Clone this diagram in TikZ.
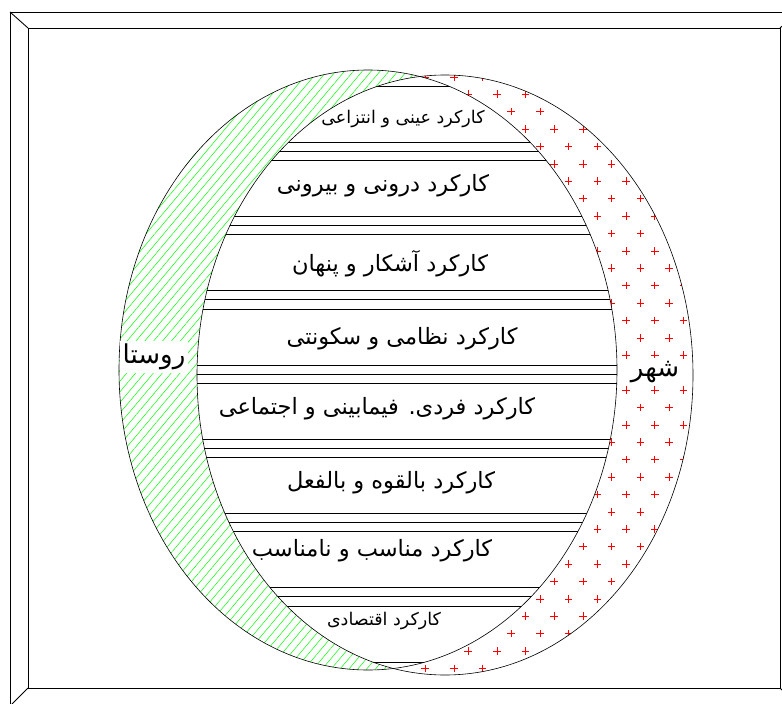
\documentclass[tikz,border=0pt]{standalone}
\usepackage{fontspec}
\newfontfamily\arabicfont[Script=Arabic]{DejaVu Sans}
\TeXXeTstate=1
\usetikzlibrary{patterns.meta}
\tikzset{
  frameline/.style={black, line width=0.9pt},
  ringline/.style={black, line width=0.6pt},
  bandline/.style={black, line width=0.6pt},
  crossmark/.style={red, line width=0.6pt},
  bigtext/.style={font=\arabicfont\fontsize{22.5}{26}\selectfont, inner sep=1pt},
  smalltext/.style={font=\arabicfont\fontsize{17.5}{21}\selectfont, inner sep=1pt},
  sidelabel/.style={font=\arabicfont\fontsize{26}{30}\selectfont, fill=white, inner sep=3pt}
}
\begin{document}
\begin{tikzpicture}[x=1pt,y=-1pt]
\useasboundingbox (0,0) rectangle (782,704);
% bevel frame
\draw[frameline] (10,12) rectangle (798,706);
\draw[frameline] (28,28) rectangle (780,688);
\draw[frameline] (10,12) -- (28,28);
\draw[frameline] (28,688) -- (10,706);
\draw[frameline] (780,28) -- (798,12);
\draw[frameline] (780,688) -- (798,706);
% left ellipse hatch
\fill[pattern={Lines[angle=50, distance=6.8pt, line width=0.5pt]}, pattern color=green]
  (368,370) ellipse [x radius=249, y radius=300];
% crosses inside right ellipse
\begin{scope}
  \clip (445,375) ellipse [x radius=248, y radius=300];
  \foreach \i in {-1,...,9}{
    \foreach \j in {0,...,17}{
      \draw[crossmark] ({453.8+28.7*\i},{76.8+34.8*\j}) ++(-3.8,0) -- ++(7.6,0) ++(-3.8,-3.8) -- ++(0,7.6);
      \draw[crossmark] ({468.15+28.7*\i},{94.2+34.8*\j}) ++(-3.8,0) -- ++(7.6,0) ++(-3.8,-3.8) -- ++(0,7.6);
    }
  }
\end{scope}
% intersection: white with bands
\begin{scope}
  \clip (368,370) ellipse [x radius=249, y radius=300];
  \clip (445,375) ellipse [x radius=248, y radius=300];
  \fill[white] (0,0) rectangle (782,704);
  \foreach \k in {0,...,7}{
    \pgfmathsetmacro\bandtop{86+74.29*\k}
    \draw[bandline] (100,\bandtop) -- (700,\bandtop);
    \draw[bandline] (100,{\bandtop+56}) -- (700,{\bandtop+56});
  }
  \foreach \k in {0,...,6}{
    \pgfmathsetmacro\bandmid{86+74.29*\k+65}
    \draw[bandline] (100,\bandmid) -- (700,\bandmid);
  }
\end{scope}
% ellipse outlines
\draw[ringline] (368,370) ellipse [x radius=249, y radius=300];
\draw[ringline] (445,375) ellipse [x radius=248, y radius=300];
% band texts
\node[smalltext] (t1) at (403,119) {\beginR کارکرد عینی و انتزاعی\endR};
\node[bigtext] (t2) at (383,186) {\beginR کارکرد درونی و بیرونی\endR};
\node[bigtext] (t3) at (390,264) {\beginR کارکرد آشکار و پنهان\endR};
\node[bigtext] (t4) at (402,339) {\beginR کارکرد نظامی و سکونتی\endR};
\node[bigtext] (t5) at (377,409) {\beginR کارکرد فردی. فیمابینی و اجتماعی\endR};
\node[bigtext] (t6) at (391,483) {\beginR کارکرد بالقوه و بالفعل\endR};
\node[bigtext] (t7) at (372,551) {\beginR کارکرد مناسب و نامناسب\endR};
\node[smalltext] (t8) at (384,621) {\beginR کارکرد اقتصادی\endR};
% side labels
\node[sidelabel] (village) at (154,357) {\beginR روستا\endR};
\node[sidelabel] (city) at (655,372) {\beginR شهر\endR};
\end{tikzpicture}
\end{document}
